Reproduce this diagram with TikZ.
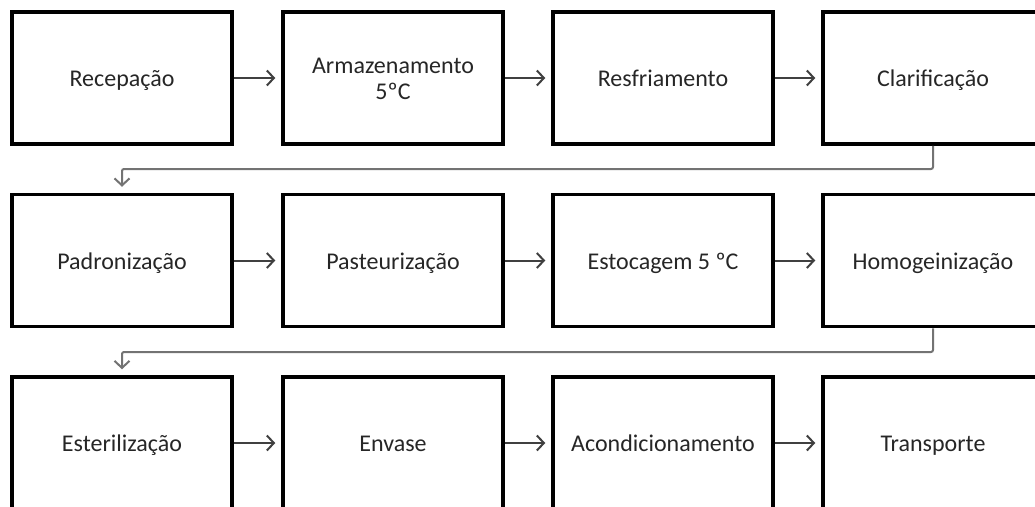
\documentclass[tikz,border=0pt]{standalone}
\usepackage{fontspec}
\setmainfont{Carlito}
\usetikzlibrary{arrows.meta}
\begin{document}
\begin{tikzpicture}[x=1pt,y=1pt,
  boxtext/.style={font=\fontsize{24}{26.5}\selectfont, text=black!85},
  stepbox/.style={boxtext, draw=black, line width=3.5pt, minimum width=220pt, minimum height=132pt,
    inner sep=0pt, text height=17pt, text depth=0pt},
  flow/.style={draw=black!75, line width=2pt, -{Straight Barb[length=7pt,width=15pt,line width=2pt]}, shorten >=6pt},
  wrap/.style={draw=black!55, line width=2pt, -{Straight Barb[length=7pt,width=15pt,line width=2pt]}, rounded corners=2pt}]
\useasboundingbox (0,0) rectangle (1035,-506);
\clip (0,0) rectangle (1035,-506);
% row 1
\node[stepbox] (a1) at (122,-78) {Recepação};
\node[stepbox, label={[boxtext, align=center, anchor=center, yshift=-1pt]center:{Armazenamento\\5ºC}}] (a2) at (393,-78) {};
\node[stepbox] (a3) at (663,-78) {Resfriamento};
\node[stepbox] (a4) at (933,-78) {Clarificação};
% row 2
\node[stepbox] (b1) at (122,-260.5) {Padronização};
\node[stepbox] (b2) at (393,-260.5) {Pasteurização};
\node[stepbox] (b3) at (663,-260.5) {Estocagem 5 ºC};
\node[stepbox] (b4) at (933,-260.5) {Homogeinização};
% row 3
\node[stepbox] (c1) at (122,-443) {Esterilização};
\node[stepbox] (c2) at (393,-443) {Envase};
\node[stepbox] (c3) at (663,-443) {Acondicionamento};
\node[stepbox] (c4) at (933,-443) {Transporte};
% horizontal arrows
\foreach \r in {a,b,c}{
  \draw[flow] (\r1.east) -- (\r2.west);
  \draw[flow] (\r2.east) -- (\r3.west);
  \draw[flow] (\r3.east) -- (\r4.west);
}
% wrap connectors
\coordinate (w1) at (933,-169);
\coordinate (w1b) at (122,-169);
\draw[wrap] (a4.south) -- (w1) -- (w1b) -- ([yshift=6pt]b1.north);
\coordinate (w2) at (933,-352);
\coordinate (w2b) at (122,-352);
\draw[wrap] (b4.south) -- (w2) -- (w2b) -- ([yshift=6pt]c1.north);
\end{tikzpicture}
\end{document}
